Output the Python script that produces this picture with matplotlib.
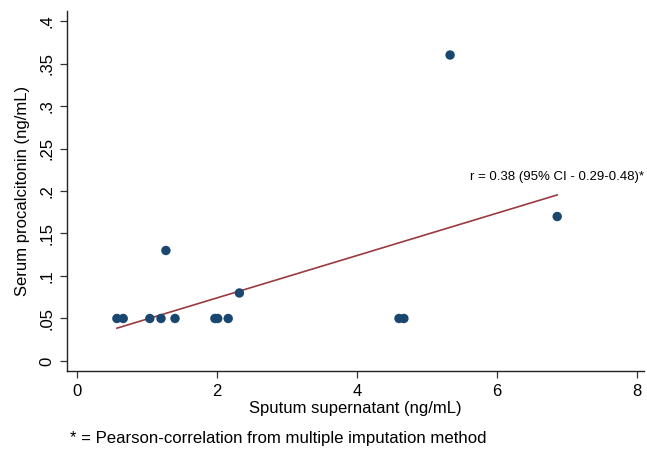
import numpy as np
import matplotlib
matplotlib.use('Agg')
import matplotlib.pyplot as plt

plt.rcParams['font.family'] = ['Liberation Sans', 'DejaVu Sans']

# sputum supernatant vs serum procalcitonin
sputum = [0.57, 0.66, 1.04, 1.20, 1.27, 1.40, 1.97, 2.01, 2.16, 2.32, 4.60, 4.67, 5.33, 6.86]
serum = [0.05, 0.05, 0.05, 0.05, 0.13, 0.05, 0.05, 0.05, 0.05, 0.08, 0.05, 0.05, 0.36, 0.17]

xticks = [0, 2, 4, 6, 8]
yticks = [0, 0.05, 0.1, 0.15, 0.2, 0.25, 0.3, 0.35, 0.4]
ytick_labels = ['0', '.05', '.1', '.15', '.2', '.25', '.3', '.35', '.4']
r_text = 'r = 0.38 (95% CI - 0.29-0.48)*'
note = '* = Pearson-correlation from multiple imputation method'

fig = plt.figure(figsize=(6.47, 4.49), dpi=100)
ax = fig.add_axes([67/647, 78/449, 577/647, 360/449])

x = np.array(sputum)
y = np.array(serum)
b, a = np.polyfit(x, y, 1)
xf = np.array([x.min(), x.max()])
ax.plot(xf, a + b*xf, color='#9a3a3f', lw=1.2, zorder=2)
ax.scatter(x, y, s=46, color='#1a476f', edgecolors='none', zorder=3)

ax.set_xlim(-0.143, 8.1)
ax.set_ylim(-0.0118, 0.4118)
ax.set_xticks(xticks)
ax.set_yticks(yticks)
ax.set_yticklabels(ytick_labels, rotation=90, va='center')
ax.tick_params(labelsize=12, length=5, width=0.9, color='#333333', pad=4)
for s in ['top', 'right']:
    ax.spines[s].set_visible(False)
for s in ['left', 'bottom']:
    ax.spines[s].set_linewidth(1.0)
    ax.spines[s].set_color('#222222')

ax.set_xlabel('Sputum supernatant (ng/mL)', fontsize=12, labelpad=2)
ax.set_ylabel('Serum procalcitonin (ng/mL)', fontsize=12, labelpad=7)

ax.text(8.1, 0.217, r_text, fontsize=9.5, ha='right', va='center')
fig.text(70/647, 1 - 438/449, note, fontsize=12.1, ha='left', va='center')

fig.savefig('out.png', dpi=100)
